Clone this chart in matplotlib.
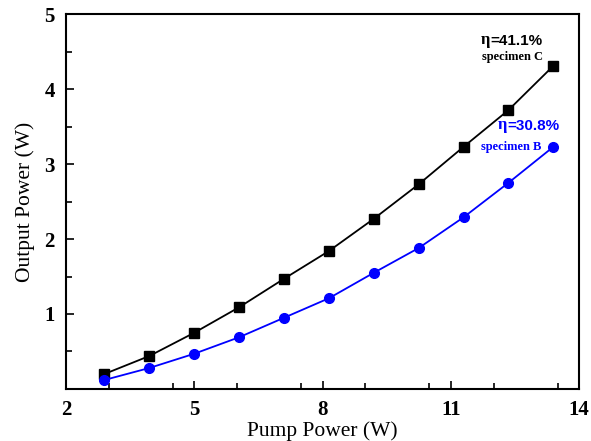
import matplotlib
matplotlib.use('Agg')
import matplotlib.pyplot as plt
from matplotlib.ticker import MultipleLocator

# pump power (W)
pump = [2.9, 3.95, 5.0, 6.05, 7.1, 8.15, 9.2, 10.25, 11.3, 12.35, 13.4]
# output power (W)
spec_c = [0.20, 0.44, 0.75, 1.09, 1.47, 1.84, 2.27, 2.73, 3.23, 3.72, 4.31]
spec_b = [0.12, 0.28, 0.47, 0.69, 0.95, 1.21, 1.55, 1.88, 2.29, 2.75, 3.23]

x_ticks = [2, 5, 8, 11, 14]
y_ticks = [1, 2, 3, 4, 5]

plt.rcParams['font.family'] = ['Liberation Serif', 'DejaVu Serif']

fig = plt.figure(figsize=(5.91, 4.41), dpi=100)
ax = fig.add_axes([0.1117, 0.118, 0.868, 0.850])

ax.plot(pump, spec_c, color='black', lw=1.3, marker='s', ms=6.5, zorder=3)
ax.plot(pump, spec_b, color='#0000ff', lw=1.3, marker='o', ms=7, zorder=3)

ax.set_xlim(2, 14)
ax.set_ylim(0, 5)
ax.set_xticks(x_ticks)
ax.set_yticks(y_ticks)
ax.xaxis.set_minor_locator(MultipleLocator(1.5))
ax.yaxis.set_minor_locator(MultipleLocator(0.5))
ax.tick_params(which='both', direction='in', width=1.2, top=False, right=False)
ax.tick_params(which='major', length=6, labelsize=15, pad=8)
ax.tick_params(which='minor', length=4)
for lab in ax.get_xticklabels() + ax.get_yticklabels():
    lab.set_fontweight('bold')
for sp in ax.spines.values():
    sp.set_linewidth(1.5)

ax.set_xlabel('Pump Power (W)', fontsize=15.5, labelpad=1)
ax.set_ylabel('Output Power (W)', fontsize=15.5, labelpad=7)


def eta_label(x, y, value, color):
    t = ax.text(x, y, 'η', fontsize=12, fontweight='bold', color=color, va='baseline')
    ax.annotate(value, xy=(1, 0), xycoords=t, fontsize=11, fontweight='bold',
                color=color, family=['Liberation Sans', 'DejaVu Sans'], va='bottom')


eta_label(11.7, 4.6, '=41.1%', 'black')
ax.text(11.72, 4.43, 'specimen C', fontsize=9, fontweight='bold', color='black', va='center')
eta_label(12.1, 3.47, '=30.8%', '#0000ff')
ax.text(11.7, 3.23, 'specimen B', fontsize=9, fontweight='bold', color='#0000ff', va='center')

fig.savefig('out.png', dpi=100)
